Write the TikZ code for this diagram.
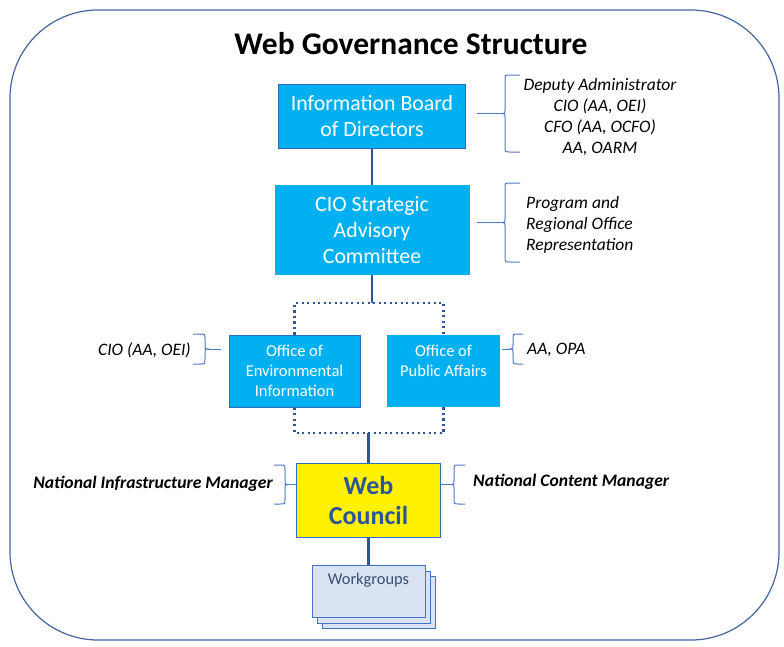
\documentclass[tikz,border=0pt]{standalone}
\usepackage{fontspec}
\setmainfont{Carlito}
\definecolor{cyanfill}{RGB}{0,176,240}
\definecolor{boxedge}{RGB}{47,110,186}
\definecolor{connblue}{RGB}{47,85,151}
\definecolor{bracecol}{RGB}{80,120,200}
\definecolor{outline}{RGB}{68,100,160}
\definecolor{wgfill}{RGB}{218,227,243}
\definecolor{wgedge}{RGB}{68,114,196}
\definecolor{wgtext}{RGB}{60,78,110}
\definecolor{councilblue}{RGB}{47,85,151}
% #1 spine x, #2 ytop, #3 ybot, #4 x of arm ends, #5 stem end x
\newcommand{\bracecurly}[5]{%
  \pgfmathsetmacro\ym{(#2+#3)/2}%
  \pgfmathsetmacro\sg{(#4>#1)?1:-1}%
  \pgfmathsetmacro\xa{#1+\sg*5}%
  \pgfmathsetmacro\xt{#1-\sg*3}%
  \draw[bracestyle] (#4,#2) -- (\xa,#2) .. controls (#1,#2) .. (#1,#2+5) -- (#1,\ym-4)
    .. controls (#1,\ym) .. (\xt,\ym) .. controls (#1,\ym) .. (#1,\ym+4)
    -- (#1,#3-5) .. controls (#1,#3) .. (\xa,#3) -- (#4,#3);
  \draw[bracestyle] (\xt,\ym) -- (#5,\ym);}
\begin{document}
\begin{tikzpicture}[x=1pt,y=-1pt,
  cyanbox/.style={fill=cyanfill,text=white,inner sep=0pt,align=center},
  conn/.style={draw=connblue,line width=2.3pt},
  dotline/.style={draw=connblue,line width=2.3pt,dash pattern=on 2.3pt off 3.2pt},
  bracestyle/.style={draw=bracecol,line width=1pt},
  lab/.style={font=\fontsize{17.5}{21}\selectfont\itshape,inner sep=0pt},
  blab/.style={font=\fontsize{17.6}{21}\selectfont\bfseries\itshape,inner sep=0pt},
  wgbox/.style={fill=wgfill,draw=wgedge,line width=1pt,minimum width=113pt,minimum height=52pt,inner sep=0pt}]
\useasboundingbox (0,0) rectangle (784,646);
\draw[outline,line width=1.2pt,rounded corners=88pt] (10,10) rectangle (779,640);
\node[font=\fontsize{31.5}{36}\selectfont\bfseries] (title) at (411,44) {Web Governance Structure};
% main boxes
\node[cyanbox,draw=boxedge,line width=1pt,minimum width=187pt,minimum height=64pt,font=\fontsize{21.8}{26}\selectfont] (b1) at (372,116) {Information Board\\of Directors};
\node[cyanbox,minimum width=195pt,minimum height=90pt,font=\fontsize{21.8}{26}\selectfont] (b2) at (372,230) {CIO Strategic\\Advisory\\Committee};
\node[cyanbox,draw=boxedge,line width=1pt,minimum width=131pt,minimum height=72pt,font=\fontsize{16.5}{20}\selectfont] (oei) at (294.5,371) {Office of\\Environmental\\Information};
\node[cyanbox,minimum width=113pt,minimum height=72pt,font=\fontsize{16.5}{20}\selectfont] (opa) at (443.5,371) {Office of\\Public Affairs\\~};
\node[fill=yellow,draw=boxedge,line width=1pt,minimum width=144pt,minimum height=74pt,inner sep=0pt,align=center,text=councilblue,font=\fontsize{26}{30}\selectfont\bfseries] (wc) at (368.5,500) {Web\\Council};
% workgroups stack
\node[wgbox] (wg3) at (378.5,602) {};
\node[wgbox] (wg2) at (373.5,597) {};
\node[wgbox] (wg) at (368.5,591) {};
\node[text=wgtext,font=\fontsize{16.4}{19}\selectfont,anchor=north,inner sep=0pt] (wgt) at ([yshift=-8pt]wg.north) {Workgroups};
% connectors
\coordinate (jt) at (372,303);
\coordinate (jb) at (368.5,433);
\draw[conn] (b1.south) -- (b2.north);
\draw[conn] (b2.south) -- (jt);
\draw[dotline] (oei.north) -- (oei.north |- jt) -- (opa.north |- jt) -- (opa.north);
\draw[dotline] (oei.south) -- (oei.south |- jb) -- (opa.south |- jb) -- (opa.south);
\draw[conn] (jb) -- (wc.north);
\draw[conn] (wc.south) -- (wg.north);
% braces
\bracecurly{505}{75}{152}{520}{477}
\bracecurly{505}{183}{262}{520}{477}
\bracecurly{205}{334}{364}{193}{221}
\bracecurly{513}{334}{364}{523}{502}
\bracecurly{285}{465}{504}{274}{296}
\bracecurly{454}{465}{504}{465}{441}
% labels
\node[lab,align=center] (l1) at (600,117) {Deputy Administrator\\CIO (AA, OEI)\\CFO (AA, OCFO)\\AA, OARM};
\node[lab,align=left,anchor=west] (l2) at (526,225) {Program and\\Regional Office\\Representation};
\node[lab,anchor=east] (l3) at (191,350) {CIO (AA, OEI)};
\node[lab,anchor=west] (l4) at (527,350) {AA, OPA};
\node[blab,anchor=east] (l5) at (273,484) {National Infrastructure Manager};
\node[blab,anchor=west] (l6) at (473,482) {National Content Manager};
\end{tikzpicture}
\end{document}
